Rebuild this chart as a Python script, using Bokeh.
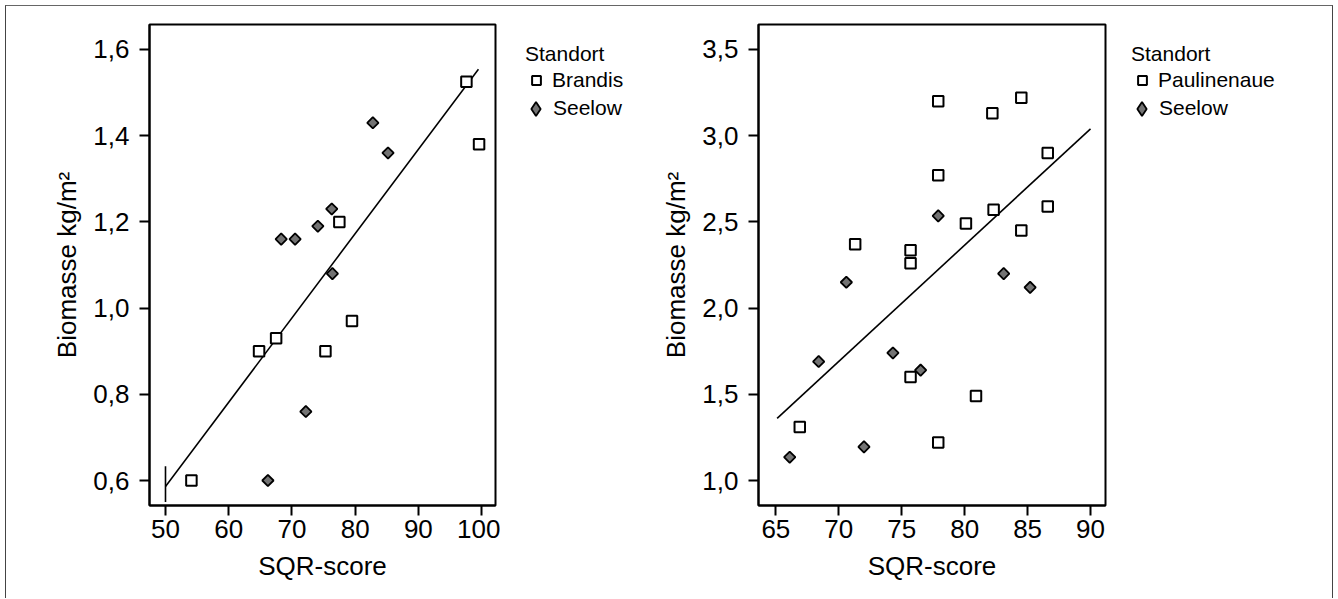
from bokeh.plotting import figure
from bokeh.models import (Range1d, FixedTicker, CustomJSTickFormatter, Legend,
                          LegendItem)
from bokeh.layouts import row
from bokeh.embed import file_html
from bokeh.resources import INLINE
import math

# ---------------- data ----------------
# Left panel: Brandis vs Seelow
brandis_x = [54.1, 64.8, 67.5, 75.3, 77.5, 79.5, 97.6, 99.6]
brandis_y = [0.60, 0.90, 0.93, 0.90, 1.20, 0.97, 1.525, 1.38]
seelow1_x = [66.2, 68.3, 70.5, 72.2, 74.1, 76.3, 76.4, 82.8, 85.2]
seelow1_y = [0.60, 1.16, 1.16, 0.76, 1.19, 1.23, 1.08, 1.43, 1.36]
fit1_x = [50.0, 99.5]
fit1_y = [0.586, 1.554]
fit1_mark_x = [50.0, 50.0]
fit1_mark_y = [0.633, 0.55]
xticks1 = [50, 60, 70, 80, 90, 100]
yticks1 = [0.6, 0.8, 1.0, 1.2, 1.4, 1.6]

# Right panel: Paulinenaue vs Seelow
paul_x = [77.9, 82.2, 84.5, 86.6, 77.9, 80.1, 82.3, 84.5, 86.6, 71.3, 75.7, 75.7,
          75.7, 80.9, 66.9, 77.9]
paul_y = [3.20, 3.13, 3.22, 2.90, 2.77, 2.49, 2.57, 2.45, 2.59, 2.37, 2.335, 2.26,
          1.60, 1.49, 1.31, 1.22]
seelow2_x = [77.9, 83.1, 85.2, 70.6, 68.4, 74.3, 76.5, 66.1, 72.0]
seelow2_y = [2.535, 2.20, 2.12, 2.15, 1.69, 1.74, 1.64, 1.135, 1.195]
fit2_x = [65.1, 90.0]
fit2_y = [1.36, 3.04]
xticks2 = [65, 70, 75, 80, 85, 90]
yticks2 = [1.0, 1.5, 2.0, 2.5, 3.0, 3.5]

FONT = "Liberation Sans"
GRAY = "#737373"
H = 592
MB_TOP = 18
MB_BOTTOM = 93

SQ_STYLE = dict(marker="square", fill_color="white", line_color="black", line_width=2)
DI_STYLE = dict(marker="square", angle=math.pi / 4, fill_color=GRAY,
                line_color="black", line_width=1.8)


def make_panel(width, mbl, mbr, xr, yr, xticks, yticks, sq_x, sq_y,
               di_x, di_y, fit_x, fit_y, mark_x=None, mark_y=None):
    p = figure(width=width, height=H, output_backend="svg", toolbar_location=None,
               x_range=Range1d(*xr), y_range=Range1d(*yr),
               min_border_left=mbl, min_border_right=mbr,
               min_border_top=MB_TOP, min_border_bottom=MB_BOTTOM)
    p.grid.visible = False
    p.outline_line_color = "black"
    p.outline_line_width = 2
    p.background_fill_color = "white"
    p.border_fill_color = "white"

    for ax in (p.xaxis[0], p.yaxis[0]):
        ax.axis_line_width = 2
        ax.axis_line_color = "black"
        ax.major_tick_line_width = 2
        ax.major_tick_line_color = "black"
        ax.major_tick_out = 10
        ax.major_tick_in = 0
        ax.minor_tick_line_color = None
        ax.major_label_text_font = FONT
        ax.major_label_text_font_size = "26px"
        ax.major_label_text_color = "black"
        ax.axis_label_text_font = FONT
        ax.axis_label_text_font_size = "26px"
        ax.axis_label_text_font_style = "normal"
        ax.axis_label_text_color = "black"

    p.xaxis.ticker = FixedTicker(ticks=xticks)
    p.yaxis.ticker = FixedTicker(ticks=yticks)
    p.xaxis.formatter = CustomJSTickFormatter(code="return tick.toFixed(0);")
    p.yaxis.formatter = CustomJSTickFormatter(code="return tick.toFixed(1).replace('.', ',');")
    p.xaxis.axis_label = "SQR-score"
    p.yaxis.axis_label = "Biomasse kg/m²"
    p.xaxis.major_label_standoff = 4
    p.yaxis.major_label_standoff = 10
    p.xaxis.axis_label_standoff = 10
    p.yaxis.axis_label_standoff = 8

    p.line(fit_x, fit_y, line_color="black", line_width=1.6)
    if mark_x is not None:
        p.line(mark_x, mark_y, line_color="black", line_width=1.6)

    p.scatter(sq_x, sq_y, size=10.5, **SQ_STYLE)
    p.scatter(di_x, di_y, size=8, **DI_STYLE)
    return p


def style_legend(lg, gw, gh, standoff):
    lg.title_text_font = FONT
    lg.title_text_font_size = "21px"
    lg.title_text_font_style = "normal"
    lg.title_text_color = "black"
    lg.title_standoff = 0
    lg.label_text_font = FONT
    lg.label_text_font_size = "21px"
    lg.label_text_color = "black"
    lg.label_standoff = standoff
    lg.glyph_width = gw
    lg.glyph_height = gh
    lg.label_height = gh
    lg.spacing = 0
    lg.padding = 0
    lg.margin = 0
    lg.border_line_color = None
    lg.background_fill_alpha = 0


def make_legend(width, mbl, sq_x, sq_y, sq_label, di_x, di_y):
    # a bare figure beside each panel that only holds the legend; its ranges keep
    # the (same) data out of view, so only the legend entries show
    lp = figure(width=width, height=H, output_backend="svg", toolbar_location=None,
                x_range=Range1d(-2, -1), y_range=Range1d(-2, -1),
                min_border_left=mbl, min_border_right=0,
                min_border_top=MB_TOP, min_border_bottom=MB_BOTTOM)
    lp.axis.visible = False
    lp.grid.visible = False
    lp.outline_line_color = None
    lp.background_fill_color = "white"
    lp.border_fill_color = "white"
    r_sq = lp.scatter(sq_x, sq_y, size=10, **SQ_STYLE)
    r_di = lp.scatter(di_x, di_y, marker="diamond", size=14, fill_color=GRAY,
                      line_color="black", line_width=1.8)

    frame_h = H - MB_TOP - MB_BOTTOM
    # title + first entry
    lg_a = Legend(items=[LegendItem(label=sq_label, renderers=[r_sq])],
                  location=(0, frame_h - 18 - 52))
    lg_a.title = "Standort"
    style_legend(lg_a, 22, 28, 5)
    # second entry (larger glyph box so the diamond gets its size)
    lg_b = Legend(items=[LegendItem(label="Seelow", renderers=[r_di])],
                  location=(-7, frame_h - 101.5))
    style_legend(lg_b, 35, 35, 0)
    lp.add_layout(lg_a)
    lp.add_layout(lg_b)
    return lp


p1 = make_panel(494, 143, 5, (47.47, 102.2), (0.542, 1.658), xticks1, yticks1,
                brandis_x, brandis_y, seelow1_x, seelow1_y,
                fit1_x, fit1_y, fit1_mark_x, fit1_mark_y)
l1 = make_legend(155, 25, brandis_x, brandis_y, "Brandis", seelow1_x, seelow1_y)
p2 = make_panel(455, 103, 5, (63.62, 91.19), (0.855, 3.645), xticks2, yticks2,
                paul_x, paul_y, seelow2_x, seelow2_y, fit2_x, fit2_y)
l2 = make_legend(222, 21, paul_x, paul_y, "Paulinenaue", seelow2_x, seelow2_y)

lay = row(p1, l1, p2, l2,
          styles={"border-left": "1px solid #444", "border-top": "1px solid #666",
                  "border-right": "1px solid #444", "margin-left": "5px",
                  "margin-top": "5px"})

with open("out.html", "w") as f:
    f.write(file_html(lay, INLINE))
